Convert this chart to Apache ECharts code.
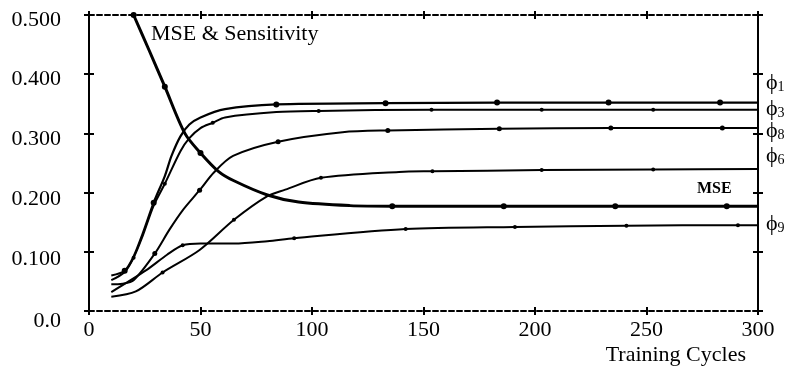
<!DOCTYPE html>
<html>
<head>
<meta charset="utf-8">
<script src="https://cdn.jsdelivr.net/npm/echarts@6/dist/echarts.min.js"></script>
<style>html,body{margin:0;padding:0;background:#fff}#c{width:790px;height:370px}</style>
</head>
<body>
<div id="c"></div>
<script>
// ---- data ----
const xTicks = [0, 50, 100, 150, 200, 250, 300];
const yTickLabels = ['0.0', '0.100', '0.200', '0.300', '0.400', '0.500'];

const mseX = [20, 27, 34, 43, 50, 58, 65, 80, 94, 117, 136, 186, 236, 286, 300];
const mseY = [0.500, 0.440, 0.379, 0.300, 0.267, 0.236, 0.220, 0.196, 0.184, 0.178, 0.177, 0.177, 0.177, 0.177, 0.177];
const mseMarks = [20, 34, 50, 136, 186, 236, 286];

const phi1X = [10, 16, 20, 24, 29, 34, 37, 41, 45, 50, 61, 84, 133, 183, 233, 283, 300];
const phi1Y = [0.060, 0.068, 0.092, 0.130, 0.183, 0.228, 0.262, 0.295, 0.315, 0.327, 0.341, 0.349, 0.351, 0.352, 0.352, 0.352, 0.352];
const phi1Marks = [16, 29, 84, 133, 183, 233, 283];

const phi3X = [10, 16, 20, 24, 29, 34, 41, 45, 50, 55.5, 61, 84, 103, 153.6, 203, 253, 300];
const phi3Y = [0.052, 0.066, 0.090, 0.126, 0.178, 0.215, 0.270, 0.292, 0.309, 0.318, 0.327, 0.336, 0.338, 0.340, 0.340, 0.340, 0.340];
const phi3Marks = [20, 34, 55.5, 103, 153.6, 203, 253];

const phi8X = [10, 15, 20, 29.5, 36, 42, 49.6, 56, 64.6, 84.8, 113.7, 134, 184, 234, 284, 300];
const phi8Y = [0.045, 0.046, 0.052, 0.097, 0.137, 0.170, 0.204, 0.234, 0.262, 0.286, 0.302, 0.305, 0.308, 0.309, 0.309, 0.309];
const phi8Marks = [29.5, 49.6, 84.8, 134, 184, 234, 284];

const phi6X = [10, 21, 33, 49.6, 65, 80, 88, 104, 139, 154, 203, 253, 300];
const phi6Y = [0.024, 0.033, 0.065, 0.103, 0.154, 0.194, 0.205, 0.225, 0.235, 0.236, 0.238, 0.239, 0.240];
const phi6Marks = [33, 65, 104, 154, 203, 253];

const phi9X = [10, 25.7, 35, 42, 50, 65, 80, 92, 142, 191, 241, 291, 300];
const phi9Y = [0.032, 0.069, 0.095, 0.111, 0.114, 0.114, 0.118, 0.123, 0.1385, 0.142, 0.144, 0.145, 0.145];
const phi9Marks = [42, 92, 142, 191, 241, 291];

const curveNames = ['MSE', 'ϕ1', 'ϕ3', 'ϕ8', 'ϕ6', 'ϕ9'];
const xAxisTitle = 'Training Cycles';
const chartTitle = 'MSE & Sensitivity';

// ---- build ----
const FONT = '"Liberation Serif", "DejaVu Serif", serif';
function build(xs, ys, marks) {
  return xs.map((x, i) => ({
    value: [x, ys[i]],
    symbol: marks.indexOf(x) >= 0 ? 'circle' : 'none'
  }));
}
const curves = [
  [mseX, mseY, mseMarks, 3, 6],
  [phi1X, phi1Y, phi1Marks, 2.2, 6],
  [phi3X, phi3Y, phi3Marks, 2, 4],
  [phi8X, phi8Y, phi8Marks, 2, 5],
  [phi6X, phi6Y, phi6Marks, 2, 4],
  [phi9X, phi9Y, phi9Marks, 2, 4]
];
const series = curves.map((c, i) => ({
  name: curveNames[i],
  type: 'line',
  xAxisIndex: 0, yAxisIndex: 0,
  data: build(c[0], c[1], c[2]),
  smooth: 0.3,
  symbolSize: c[4],
  lineStyle: { color: '#000', width: c[3] },
  itemStyle: { color: '#000' },
  animation: false,
  z: 3
}));

const G = { left: 89, right: 32, top: 15, bottom: 59 };
const lbl = { fontFamily: FONT, fontSize: 22, color: '#000' };
const shifts = [10, 7, 7, 6, 5, 5];
const yRich = {};
shifts.forEach((s, i) => { yRich['r' + i] = { fontFamily: FONT, fontSize: 22, color: '#000', padding: [2 * s, 0, 0, 0] }; });

function axisCommon(extra) {
  return Object.assign({ axisLine: { show: false, onZero: false }, splitLine: { show: false }, axisLabel: { show: false } }, extra);
}
const tickStyle = { color: '#000', width: 2 };

const option = {
  backgroundColor: '#fff',
  animation: false,
  grid: [Object.assign({}, G), Object.assign({}, G)],
  xAxis: [
    axisCommon({ gridIndex: 0, type: 'value', position: 'bottom', min: 0, max: 300, interval: 50,
      axisLine: { show: true, onZero: false, lineStyle: { color: '#000', width: 2, type: [5, 3] } },
      axisTick: { show: true, length: 4, lineStyle: tickStyle },
      axisLabel: Object.assign({ show: true, margin: 8, formatter: v => (xTicks.indexOf(v) >= 0 ? String(v) : '') }, lbl) }),
    axisCommon({ gridIndex: 0, type: 'value', position: 'top', min: 0, max: 300, interval: 50,
      axisLine: { show: true, onZero: false, lineStyle: { color: '#000', width: 2, type: [5, 3] } },
      axisTick: { show: true, length: 4, lineStyle: tickStyle } }),
    axisCommon({ gridIndex: 1, type: 'value', position: 'bottom', min: 0, max: 300, interval: 50,
      axisTick: { show: true, inside: true, length: 4, lineStyle: tickStyle } }),
    axisCommon({ gridIndex: 1, type: 'value', position: 'top', min: 0, max: 300, interval: 50,
      axisTick: { show: true, inside: true, length: 4, lineStyle: tickStyle } })
  ],
  yAxis: [
    axisCommon({ gridIndex: 0, type: 'value', position: 'left', min: 0, max: 0.5, interval: 0.1,
      axisLine: { show: true, onZero: false, lineStyle: { color: '#000', width: 2 } },
      axisTick: { show: true, length: 5, lineStyle: tickStyle },
      axisLabel: { show: true, margin: 28, rich: yRich,
        formatter: v => { const i = Math.round(v * 10); return '{r' + i + '|' + yTickLabels[i] + '}'; } } }),
    axisCommon({ gridIndex: 0, type: 'value', position: 'right', min: 0, max: 0.5, interval: 0.1,
      axisLine: { show: true, onZero: false, lineStyle: { color: '#000', width: 2 } },
      axisTick: { show: true, length: 5, lineStyle: tickStyle } }),
    axisCommon({ gridIndex: 1, type: 'value', position: 'left', min: 0, max: 0.5, interval: 0.1,
      axisTick: { show: true, inside: true, length: 5, lineStyle: tickStyle } }),
    axisCommon({ gridIndex: 1, type: 'value', position: 'right', min: 0, max: 0.5, interval: 0.1,
      axisTick: { show: true, inside: true, length: 5, lineStyle: tickStyle } })
  ],
  series: series,
  graphic: [
    { type: 'text', left: 151, top: 23, style: { text: chartTitle, font: '22px ' + FONT, fill: '#000' } },
    { type: 'text', right: 44, top: 344, style: { text: xAxisTitle, font: '22px ' + FONT, fill: '#000' } },
    { type: 'text', left: 697, top: 181, style: { text: curveNames[0], font: 'bold 16px ' + FONT, fill: '#000' } },
    { type: 'text', left: 766, top: 72, style: { text: '{p|ϕ}{s|1}', rich: { p: { font: '22px ' + FONT, fill: '#000' }, s: { font: '14px ' + FONT, fill: '#000', padding: [8, 0, 0, 0] } } } },
    { type: 'text', left: 766, top: 98, style: { text: '{p|ϕ}{s|3}', rich: { p: { font: '22px ' + FONT, fill: '#000' }, s: { font: '14px ' + FONT, fill: '#000', padding: [8, 0, 0, 0] } } } },
    { type: 'text', left: 766, top: 120, style: { text: '{p|ϕ}{s|8}', rich: { p: { font: '22px ' + FONT, fill: '#000' }, s: { font: '14px ' + FONT, fill: '#000', padding: [8, 0, 0, 0] } } } },
    { type: 'text', left: 766, top: 145, style: { text: '{p|ϕ}{s|6}', rich: { p: { font: '22px ' + FONT, fill: '#000' }, s: { font: '14px ' + FONT, fill: '#000', padding: [8, 0, 0, 0] } } } },
    { type: 'text', left: 766, top: 213, style: { text: '{p|ϕ}{s|9}', rich: { p: { font: '22px ' + FONT, fill: '#000' }, s: { font: '14px ' + FONT, fill: '#000', padding: [8, 0, 0, 0] } } } }
  ]
};
const chart = echarts.init(document.getElementById('c'), null, { renderer: 'canvas' });
chart.setOption(option);
</script>
</body>
</html>
